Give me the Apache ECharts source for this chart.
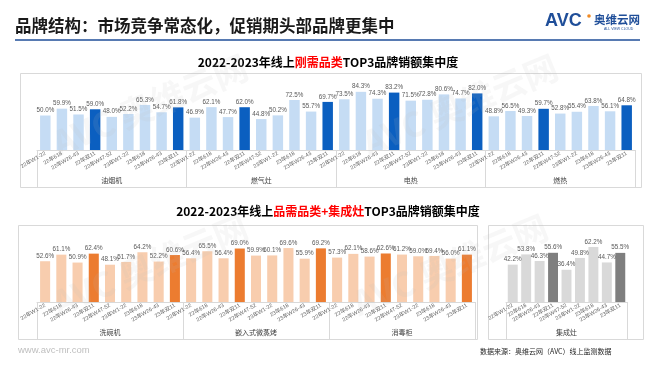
<!DOCTYPE html>
<html><head><meta charset="utf-8">
<script src="https://cdn.jsdelivr.net/npm/echarts@6/dist/echarts.min.js"></script>
<style>html,body{margin:0;padding:0;background:#fff}#c{width:660px;height:372px}</style>
</head><body><div id="c"></div>
<script>
// ---- data ----
const periods = ['22年W1-22','22年618','22年W26-43','22年双11','22年W47-52','23年W1-22','23年618','23年W26-43','23年双11'];
const promoPeriods = ['22年双11','23年双11'];
const topGroups = ['油烟机','燃气灶','电热','燃热'];
const youyanji  = [50.0,59.9,51.5,59.0,48.0,52.2,65.3,54.7,61.8];
const ranqizao  = [46.9,62.1,47.7,62.0,44.8,50.2,72.5,55.7,69.7];
const dianre    = [73.5,84.3,74.3,83.2,71.5,72.8,80.6,74.7,82.0];
const ranre     = [48.8,56.5,49.3,59.7,52.8,55.4,63.8,56.1,64.8];
const bottomGroups = ['洗碗机','嵌入式微蒸烤','消毒柜'];
const xiwanji   = [52.6,61.1,50.9,62.4,48.1,51.7,64.2,52.2,60.6];
const qianru    = [56.4,65.5,56.4,69.0,59.9,60.1,69.6,55.9,69.2];
const xiaodugui = [57.3,62.1,58.6,62.6,61.2,59.0,59.4,56.0,61.1];
const jichengGroups = ['集成灶'];
const jichengzao = [42.2,53.8,46.3,55.6,36.4,49.8,62.2,44.7,55.5];

// ---- build ----
const FONT = 'Liberation Sans, Arial, Noto Sans CJK SC, sans-serif';
function cats(groups){ return groups.flatMap(g => periods.map(p => g + '|' + p)); }
function barData(arrs, light, dark){
  const out = [];
  arrs.forEach(a => a.forEach((v, i) => {
    out.push({ value: v, itemStyle: { color: promoPeriods.includes(periods[i]) ? dark : light } });
  }));
  return out;
}
const panels = [
  { groups: topGroups, arrs: [youyanji, ranqizao, dianre, ranre], light: '#C5DCF4', dark: '#0B5FC0',
    grid: { left: 37, top: 81, width: 598, height: 69 }, bw: '63%' },
  { groups: bottomGroups, arrs: [xiwanji, qianru, xiaodugui], light: '#F8CDAE', dark: '#EC7C30',
    grid: { left: 37, top: 224.5, width: 438, height: 77.5 }, bw: '62%' },
  { groups: jichengGroups, arrs: [jichengzao], light: '#D9D9D9', dark: '#7F7F7F',
    grid: { left: 506, top: 213.5, width: 121, height: 88.5 }, bw: '74%' }
];
const grid = [], xAxis = [], yAxis = [], series = [];
panels.forEach((p, k) => {
  grid.push(p.grid);
  yAxis.push({ type: 'value', gridIndex: k, min: 0, max: 100, show: false });
  xAxis.push({
    type: 'category', gridIndex: k, position: 'bottom', data: cats(p.groups),
    axisLine: { lineStyle: { color: '#D9D9D9' } }, axisTick: { show: false },
    axisLabel: { interval: 0, rotate: 30, fontSize: 5.5, color: '#666', margin: 3, fontFamily: FONT,
      formatter: v => v.split('|')[1] }
  });
  xAxis.push({
    type: 'category', gridIndex: k, position: 'bottom', data: p.groups,
    axisLine: { show: false },
    axisTick: { show: true, length: 37, lineStyle: { color: '#D9D9D9' } },
    axisLabel: { fontSize: 7, color: '#404040', margin: 27.5, fontFamily: FONT }
  });
  series.push({
    type: 'bar', xAxisIndex: 2 * k, yAxisIndex: k, barWidth: p.bw,
    data: barData(p.arrs, p.light, p.dark),
    label: { show: true, position: 'top', distance: 2, fontSize: 6.3, color: '#595959', fontFamily: FONT,
      formatter: d => d.value.toFixed(1) + '%' }
  });
});

const box = (x1, y1, x2, y2) => ({ type: 'rect', z: -1, shape: { x: x1 + 0.5, y: y1 + 0.5, width: x2 - x1, height: y2 - y1 },
  style: { fill: '#fff', stroke: '#D9D9D9', lineWidth: 1 } });
const wm = (x, y) => ({ type: 'text', x: x, y: y, rotation: Math.PI / 8, z: 10, silent: true,
  style: { text: 'AVC 奥维云网', font: 'bold 34px Noto Sans CJK SC', fill: 'rgba(190,190,190,0.12)', align: 'center', verticalAlign: 'middle' } });

const graphic = [
  box(20, 73, 641, 187), box(18, 225, 477, 339), box(488, 225, 643, 339),
  { type: 'text', x: 15, y: 26, style: { text: '品牌结构：市场竞争常态化，促销期头部品牌更集中', font: 'bold 16.5px Noto Sans CJK SC', fill: '#1A1A1A', verticalAlign: 'middle' } },
  { type: 'line', shape: { x1: 15, y1: 40, x2: 640, y2: 40 }, style: { stroke: '#1F4E99', lineWidth: 1.5 } },
  { type: 'text', x: 545, y: 21, style: { text: 'AVC', font: 'bold 18px Liberation Sans', fill: '#1F4E99', verticalAlign: 'middle' } },
  { type: 'circle', shape: { cx: 589, cy: 16, r: 1.8 }, style: { fill: '#F08A24' } },
  { type: 'text', x: 594, y: 20, style: { text: '奥维云网', font: 'bold 11.5px Noto Sans CJK SC', fill: '#1F4E99', verticalAlign: 'middle' } },
  { type: 'text', x: 604, y: 29.5, style: { text: 'ALL VIEW CLOUD', font: '3.5px Liberation Sans', fill: '#1F4E99', verticalAlign: 'middle' } },
  { type: 'text', x: 328, y: 62, style: { text: '{a|2022-2023年线上}{r|刚需品类}{a|TOP3品牌销额集中度}', align: 'center', verticalAlign: 'middle',
      rich: { a: { font: 'bold 12px Noto Sans CJK SC', fill: '#000' }, r: { font: 'bold 12px Noto Sans CJK SC', fill: '#FF0000' } } } },
  { type: 'text', x: 328, y: 211, style: { text: '{a|2022-2023年线上}{r|品需品类+集成灶}{a|TOP3品牌销额集中度}', align: 'center', verticalAlign: 'middle',
      rich: { a: { font: 'bold 12px Noto Sans CJK SC', fill: '#000' }, r: { font: 'bold 12px Noto Sans CJK SC', fill: '#FF0000' } } } },
  { type: 'text', x: 18, y: 350, style: { text: 'www.avc-mr.com', font: '9.5px Liberation Sans', fill: '#BFBFBF', verticalAlign: 'middle' } },
  { type: 'text', x: 480, y: 351, style: { text: '数据来源：奥维云网（AVC）线上监测数据', font: '7px Noto Sans CJK SC', fill: '#262626', verticalAlign: 'middle' } },
  wm(150, 105), wm(460, 105), wm(150, 265), wm(450, 265)
];

const chart = echarts.init(document.getElementById('c'), null, { renderer: 'canvas' });
chart.setOption({
  animation: false,
  textStyle: { fontFamily: FONT },
  grid, xAxis, yAxis, series, graphic
});
</script>
</body></html>
